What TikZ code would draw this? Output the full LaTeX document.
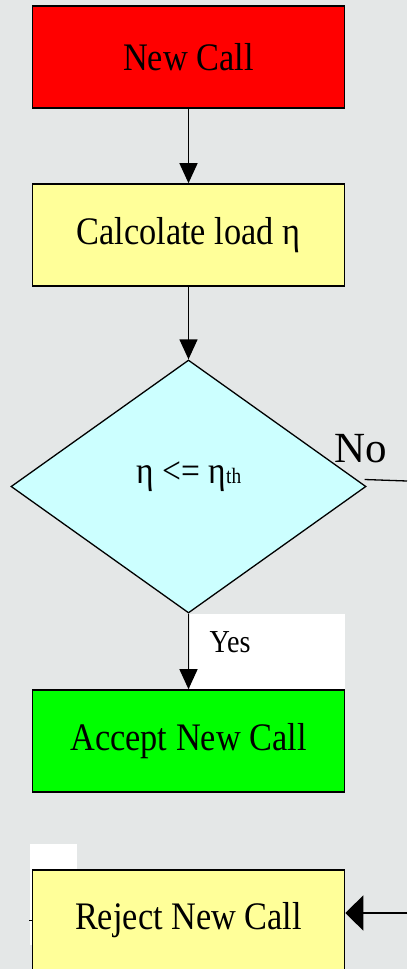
\documentclass[tikz,border=0pt]{standalone}
\usepackage{fontspec}
\setmainfont{Liberation Serif}
\newfontfamily\tms{Liberation Serif}
\usetikzlibrary{shapes.geometric,arrows.meta}
\definecolor{bgc}{RGB}{228,231,231}
\definecolor{yelc}{RGB}{255,255,153}
\definecolor{cyac}{RGB}{204,255,255}
\newcommand{\cond}[1]{\scalebox{0.88}[1]{#1}}
\begin{document}
\begin{tikzpicture}[x=1pt,y=-1pt,
  box/.style={draw=black,line width=1.6pt,minimum width=312pt,minimum height=102pt,inner sep=0pt,font=\tms\fontsize{39}{44}\selectfont},
  conn/.style={line width=1.3pt,-{Triangle[length=20pt,width=18pt]}},
  plainline/.style={line width=1.3pt}]
\useasboundingbox (0,0) rectangle (407,969);
\clip (0,0) rectangle (407,969);
\fill[bgc] (0,0) rectangle (407,969);
% white patches
\fill[white] (190,614) rectangle (345,690);
\fill[white] (30,844) rectangle (77,945);
% nodes
\node[box,fill=red] (newcall) at (188.5,57) {\cond{New Call}};
\node[box,fill=yelc] (calc) at (188.5,235) {\cond{Calcolate load η}};
\node[draw=black,line width=1.3pt,fill=cyac,shape=diamond,aspect=1.4,minimum width=355pt,minimum height=253pt,inner sep=0pt] (dia) at (188.5,486.5) {};
\node[font=\tms\fontsize{38}{44}\selectfont] (cnd) at (189,477) {\cond{η <= η{\fontsize{22}{24}\selectfont th}}};
\node[box,fill=green] (accept) at (188.5,741) {\cond{Accept New Call}};
\node[box,fill=yelc,minimum height=100pt] (reject) at (188.5,920) {\cond{Reject New Call}};
% labels
\node[font=\tms\fontsize{43}{48}\selectfont,inner sep=0pt] (nolab) at (361,449) {No};
\node[font=\tms\fontsize{32}{36}\selectfont,inner sep=0pt] (yeslab) at (230,642) {\cond{Yes}};
% connectors
\draw[conn] (newcall.south) -- (calc.north);
\draw[conn] (calc.south) -- (dia.north);
\draw[conn] (dia.south) -- (accept.north);
\coordinate (noend) at (407,481);
\draw[plainline] ([yshift=7pt,xshift=-2pt]dia.east) -- (noend);
\coordinate (rejin) at (407,913);
\draw[line width=1.8pt,-{Triangle[length=18pt,width=35pt]}] (rejin) -- ([yshift=7pt]reject.east);
\coordinate (stub) at (29,920);
\draw[line width=1pt] (stub) -- (reject.west);
\end{tikzpicture}
\end{document}
